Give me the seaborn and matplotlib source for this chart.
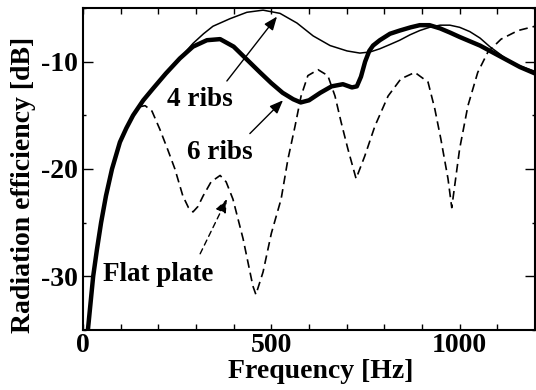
import numpy as np
import pandas as pd
import matplotlib
matplotlib.use("Agg")
import matplotlib.pyplot as plt
import seaborn as sns
from matplotlib.ticker import MultipleLocator

# ---- data ----
six_f = [13, 20, 27, 37, 48, 61, 77, 98, 115, 133, 160, 186, 220, 257, 292, 329, 364,
         400, 435, 470, 500, 530, 558, 578, 600, 630, 660, 690, 714, 727, 738, 749,
         760, 770, 788, 815, 841, 870, 894, 920, 948, 975, 1000, 1054, 1107, 1160, 1200]
six_db = [-35, -32.5, -30, -27.5, -25, -22.5, -20, -17.5, -16.2, -15, -13.6, -12.5, -11.1,
          -9.7, -8.6, -8.0, -7.9, -8.6, -9.8, -11.0, -12.0, -12.9, -13.5, -13.8, -13.6,
          -12.9, -12.3, -12.1, -12.4, -12.3, -11.4, -10.0, -9.0, -8.5, -8.0, -7.4, -7.1,
          -6.8, -6.6, -6.6, -6.9, -7.3, -7.7, -8.5, -9.5, -10.5, -11.1]

four_f = [13, 20, 27, 37, 48, 61, 77, 98, 115, 133, 160, 186, 220, 257, 292, 320, 345,
          390, 435, 478, 523, 568, 611, 656, 701, 735, 762, 788, 815, 841, 868, 894, 920,
          948, 974, 1000, 1027, 1054, 1080, 1107, 1133, 1160, 1200]
four_db = [-35, -32.5, -30, -27.5, -25, -22.5, -20, -17.5, -16.2, -15, -13.6, -12.5, -11.1,
           -9.7, -8.3, -7.4, -6.7, -6.0, -5.4, -5.2, -5.5, -6.4, -7.6, -8.5, -9.0, -9.2,
           -9.1, -8.8, -8.4, -8.0, -7.5, -7.1, -6.8, -6.6, -6.6, -6.8, -7.2, -7.8, -8.6,
           -9.3, -10.0, -10.4, -10.9]

flat_f = [150, 165, 183, 204, 225, 244, 265, 280, 292, 305, 319, 340, 364, 380, 398, 425,
          451, 459, 478, 500, 526, 544, 563, 579, 597, 624, 650, 669, 685, 703, 725, 748,
          775, 810, 844, 881, 916, 934, 950, 969, 979, 1000, 1022, 1048, 1075, 1110, 1155, 1200]
flat_db = [-14.2, -14.1, -14.6, -16.3, -18.2, -20.0, -22.5, -23.6, -24.0, -23.5, -22.5,
           -21.2, -20.6, -21.2, -22.8, -26.5, -30.9, -31.7, -29.6, -26.0, -22.8, -19.1,
           -16.0, -13.2, -11.3, -10.75, -11.3, -13.2, -15.6, -18.1, -20.9, -18.8, -16.0,
           -13.2, -11.6, -11.0, -11.9, -14.4, -17.2, -20.9, -23.6, -18.1, -14.1, -11.0,
           -9.1, -7.9, -7.1, -6.7]

x_label = "Frequency [Hz]"
y_label = "Radiation efficiency [dB]"
labels = ["4 ribs", "6 ribs", "Flat plate"]

# ---- plotting ----
sns.set_theme(style="ticks")
plt.rcParams["font.family"] = ["Liberation Serif", "DejaVu Serif"]
plt.rcParams["font.weight"] = "bold"
plt.rcParams["axes.unicode_minus"] = False
plt.rcParams["text.color"] = "black"
plt.rcParams["axes.labelcolor"] = "black"
plt.rcParams["xtick.color"] = "black"
plt.rcParams["ytick.color"] = "black"

fig = plt.figure(figsize=(5.36, 3.9), dpi=100)
ax = fig.add_axes([83 / 536, 1 - 330 / 390, 452 / 536, 322 / 390])

df_flat = pd.DataFrame({"f": flat_f, "db": flat_db})
df_four = pd.DataFrame({"f": four_f, "db": four_db})
df_six = pd.DataFrame({"f": six_f, "db": six_db})

sns.lineplot(data=df_flat, x="f", y="db", ax=ax, color="black", lw=1.2,
             linestyle=(0, (5.2, 3.0)), sort=False, estimator=None, zorder=2)
sns.lineplot(data=df_four, x="f", y="db", ax=ax, color="black", lw=1.1,
             sort=False, estimator=None, zorder=3)
sns.lineplot(data=df_six, x="f", y="db", ax=ax, color="black", lw=3.2,
             sort=False, estimator=None, zorder=4)

ax.set_xlim(0, 1200)
ax.set_ylim(-35, -5)
ax.xaxis.set_major_locator(MultipleLocator(500))
ax.xaxis.set_minor_locator(MultipleLocator(100))
ax.yaxis.set_major_locator(MultipleLocator(10))
ax.yaxis.set_minor_locator(MultipleLocator(5))
ax.tick_params(axis="x", which="both", direction="in", top=True, bottom=True,
               length=4, width=1.0, labelsize=20, pad=2, colors="black")
ax.tick_params(axis="y", which="major", direction="in", left=True, right=True,
               length=7.5, width=1.0, labelsize=20, pad=4, colors="black")
ax.tick_params(axis="y", which="minor", direction="in", left=True, right=True,
               length=2.5, width=1.0)
for lab in ax.get_xticklabels() + ax.get_yticklabels():
    lab.set_fontweight("bold")
for s in ax.spines.values():
    s.set_linewidth(1.5)
    s.set_color("black")
    s.set_visible(True)

ax.set_xlabel(x_label, fontsize=20, fontweight="bold")
ax.set_ylabel(y_label, fontsize=20, fontweight="bold")
ax.xaxis.set_label_coords((321 - 83) / 452, -0.09)
ax.yaxis.set_label_coords(-0.105, (330 - 185) / 322)

arrow_solid = dict(arrowstyle="-|>,head_length=0.45,head_width=0.18", color="black",
                   lw=1.0, mutation_scale=18, shrinkA=0, shrinkB=0)
arrow_dash = dict(arrow_solid, linestyle=(0, (4, 3)))

ax.annotate("", xy=(515, -5.8), xytext=(382, -11.8), arrowprops=arrow_solid, zorder=5)
ax.annotate("", xy=(531, -13.6), xytext=(443, -16.7), arrowprops=arrow_solid, zorder=5)
ax.annotate("", xy=(382, -22.8), xytext=(311, -27.9), arrowprops=arrow_dash, zorder=5)

ax.text(223, -14.1, labels[0], fontsize=19.5, fontweight="bold", ha="left", va="baseline")
ax.text(276, -19.1, labels[1], fontsize=19.5, fontweight="bold", ha="left", va="baseline")
ax.text(53, -30.4, labels[2], fontsize=19.5, fontweight="bold", ha="left", va="baseline")

fig.savefig("out.png", dpi=100)
